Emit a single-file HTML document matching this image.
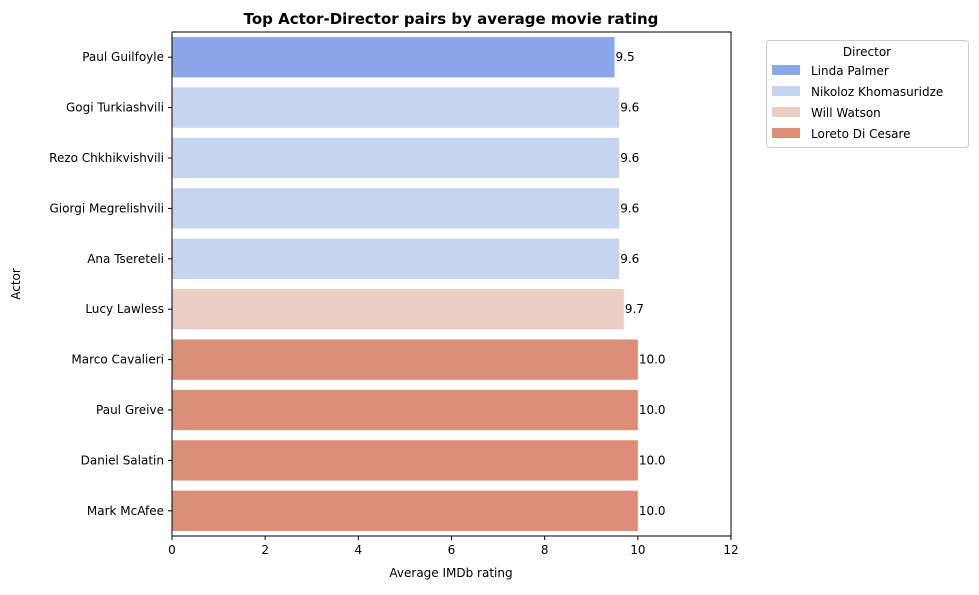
<!DOCTYPE html>
<html><head><meta charset="utf-8"><style>
body{margin:0;background:#fff;font-family:"Liberation Sans","DejaVu Sans",sans-serif;}
svg text{font-family:"DejaVu Sans","Liberation Sans",sans-serif;}
</style></head><body>
<svg id="chart" width="979" height="590" xmlns="http://www.w3.org/2000/svg">
<rect width="979" height="590" fill="#fff"/>
<text x="451" y="24" text-anchor="middle" font-size="15" font-weight="bold">Top Actor-Director pairs by average movie rating</text>
<g id="bars"></g>
<g id="axes"></g>
<text x="451" y="577" text-anchor="middle" font-size="12">Average IMDb rating</text>
<text transform="translate(20,284) rotate(-90)" text-anchor="middle" font-size="12">Actor</text>
<g id="legend">
<rect x="766.5" y="40.5" width="202" height="107" rx="3" fill="#fff" stroke="#ccc"/>
<text x="867" y="56" text-anchor="middle" font-size="12">Director</text>
</g>
</svg>
<script>
const actors=["Paul Guilfoyle","Gogi Turkiashvili","Rezo Chkhikvishvili","Giorgi Megrelishvili","Ana Tsereteli","Lucy Lawless","Marco Cavalieri","Paul Greive","Daniel Salatin","Mark McAfee"];
const ratings=[9.5,9.6,9.6,9.6,9.6,9.7,10.0,10.0,10.0,10.0];
const directors=["Linda Palmer","Nikoloz Khomasuridze","Nikoloz Khomasuridze","Nikoloz Khomasuridze","Nikoloz Khomasuridze","Will Watson","Loreto Di Cesare","Loreto Di Cesare","Loreto Di Cesare","Loreto Di Cesare"];
const legendNames=["Linda Palmer","Nikoloz Khomasuridze","Will Watson","Loreto Di Cesare"];
const legendColors=["#8aa7ea","#c5d5f0","#eacec1","#dc8e78"];
const xTicks=[0,2,4,6,8,10,12];

const NS="http://www.w3.org/2000/svg";
const X0=172,X1=731,Y0=32,Y1=536,XMAX=12;
const xs=v=>X0+(v/XMAX)*(X1-X0);
const band=(Y1-Y0)/actors.length;
const yc=i=>Y0+band*(i+0.5);
function mk(tag,attrs,parent){const e=document.createElementNS(NS,tag);for(const k in attrs)e.setAttribute(k,attrs[k]);parent.appendChild(e);return e;}
const bars=document.getElementById('bars'),axes=document.getElementById('axes');
actors.forEach((a,i)=>{
  const col=legendColors[legendNames.indexOf(directors[i])];
  const r=mk('rect',{x:X0,y:yc(i)-band*0.4,width:xs(ratings[i])-X0,height:band*0.8,fill:col},bars);
  
  
  const t=mk('text',{x:xs(ratings[i])+1,y:yc(i)+4,'font-size':12},bars);
  t.textContent=ratings[i].toFixed(1);
  
  
  mk('line',{x1:X0-4,x2:X0,y1:yc(i),y2:yc(i),stroke:'#000'},axes);
  const l=mk('text',{x:X0-8,y:yc(i)+4,'text-anchor':'end','font-size':12},axes);
  l.textContent=a;
  
  
});
xTicks.forEach(v=>{
  mk('line',{x1:xs(v),x2:xs(v),y1:Y1,y2:Y1+4,stroke:'#000'},axes);
  const t=mk('text',{x:xs(v),y:Y1+18,'text-anchor':'middle','font-size':12},axes);
  t.textContent=v;
  
  
});
mk('rect',{x:X0,y:Y0,width:X1-X0,height:Y1-Y0,fill:'none',stroke:'#000','stroke-width':1},axes);
const lg=document.getElementById('legend');
legendNames.forEach((n,i)=>{
  const y=65+i*21;
  const s=mk('rect',{x:772,y:y,width:28,height:10,fill:legendColors[i]},lg);
  
  
  const t=mk('text',{x:811,y:y+10,'font-size':12},lg);
  t.textContent=n;
  
  
});
</script>
</body></html>
